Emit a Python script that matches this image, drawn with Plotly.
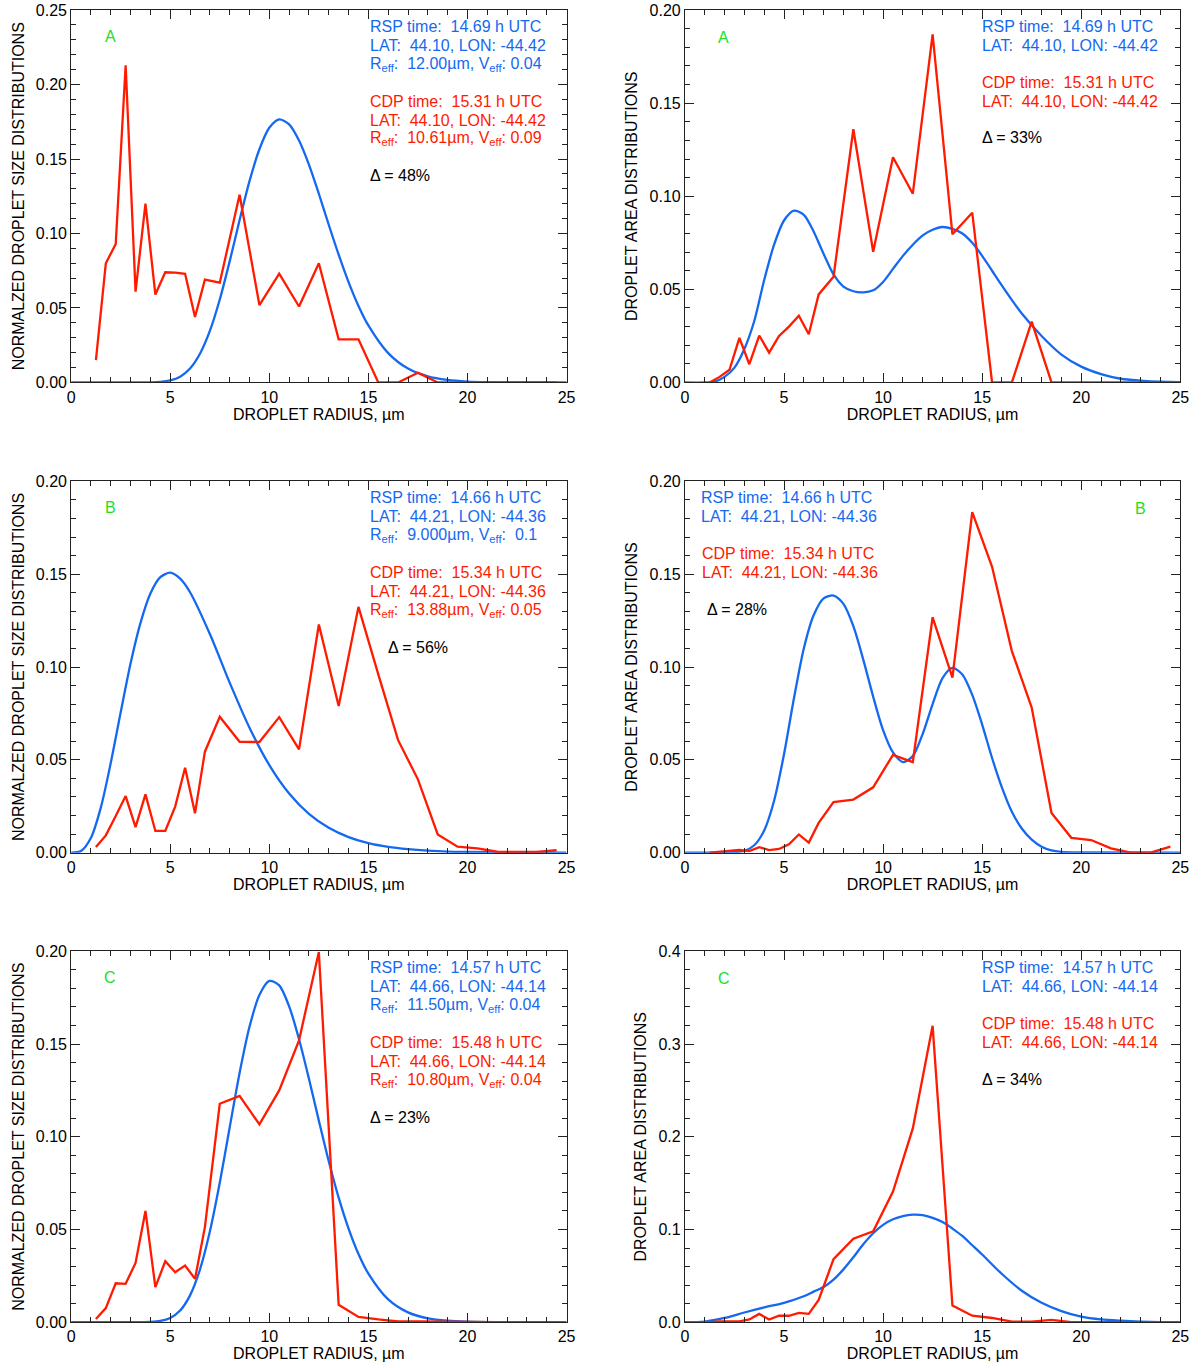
import plotly.graph_objects as go

# ---------------- data ----------------
x_cdp = [1.25, 1.75, 2.25, 2.75, 3.25, 3.75, 4.25, 4.75, 5.25, 5.75, 6.25, 6.75,
         7.5, 8.5, 9.5, 10.5, 11.5, 12.5, 13.5, 14.5, 15.5, 16.5, 17.5, 18.5,
         19.5, 20.5, 21.5, 22.5, 23.5, 24.5]

# CDP (red) distributions
cdp_size_A = [0.015, 0.080, 0.093, 0.213, 0.061, 0.120, 0.059, 0.074, 0.0737, 0.073, 0.044, 0.069,
              0.067, 0.126, 0.052, 0.073, 0.051, 0.080, 0.029, 0.029, 0.0, 0.0, 0.0065, 0.0,
              0.0, 0.0, 0.0, 0.0, 0.0, 0.0]
cdp_area_A = [0.0, 0.003, 0.0068, 0.024, 0.0098, 0.0252, 0.016, 0.025, 0.030, 0.0359, 0.0259, 0.0473,
              0.0568, 0.136, 0.0702, 0.121, 0.1014, 0.187, 0.0796, 0.0912, 0.0, 0.0, 0.0327, 0.0,
              0.0, 0.0, 0.0, 0.0, 0.0, 0.0]
cdp_size_B = [0.003, 0.0093, 0.0197, 0.0305, 0.0138, 0.0314, 0.0117, 0.0117, 0.0248, 0.0457, 0.0212, 0.0544,
              0.0732, 0.0597, 0.0596, 0.073, 0.0556, 0.1229, 0.079, 0.1324, 0.096, 0.0606, 0.0395, 0.0098,
              0.0032, 0.0023, 0.0005, 0.0004, 0.0004, 0.0013]
cdp_area_B = [0.0, 0.0005, 0.001, 0.0015, 0.0008, 0.003, 0.0014, 0.002, 0.0045, 0.0098, 0.0054, 0.016,
              0.0273, 0.0286, 0.0352, 0.0527, 0.0488, 0.1268, 0.0943, 0.1834, 0.154, 0.1086, 0.0782, 0.0214,
              0.008, 0.0068, 0.0023, 0.0, 0.0, 0.0032]
cdp_size_C = [0.0018, 0.0076, 0.021, 0.0207, 0.032, 0.060, 0.0189, 0.0329, 0.027, 0.0306, 0.0234, 0.0513,
              0.1178, 0.122, 0.1067, 0.125, 0.152, 0.1996, 0.0094, 0.0029, 0.0015, 0.0004, 0.0004, 0.0002,
              0.0, 0.0, 0.0, 0.0, 0.0, 0.0]
cdp_area_C = [0.0, 0.001, 0.001, 0.001, 0.003, 0.009, 0.003, 0.007, 0.007, 0.010, 0.009, 0.024,
              0.068, 0.090, 0.098, 0.141, 0.209, 0.3196, 0.018, 0.007, 0.0046, 0.0007, 0.0007, 0.0025,
              0.0, 0.0, 0.0, 0.0, 0.0, 0.0]

# RSP (blue) retrieved distributions
rsp_size_A_x = [0, 1, 2, 3, 4, 4.5, 5, 5.5, 6, 6.5, 7, 7.5, 8, 8.5, 9, 9.5, 10, 10.5, 11, 11.5,
                12, 12.5, 13, 13.5, 14, 14.5, 15, 16, 17, 18, 19, 20, 21, 22, 23, 24, 25]
rsp_size_A_y = [0, 0, 0, 0, 0.0001, 0.0004, 0.0014, 0.0039, 0.0094, 0.0193, 0.0346, 0.0557, 0.0813,
                0.109, 0.1352, 0.1566, 0.171, 0.1766, 0.1733, 0.1625, 0.1463, 0.1267, 0.1059, 0.0858,
                0.0674, 0.0514, 0.0383, 0.0197, 0.0093, 0.0041, 0.0017, 0.0006, 0.0002, 0.0001, 0, 0, 0]

rsp_area_A_x = [0, 1, 1.5, 2, 2.5, 3, 3.5, 4, 4.5, 5, 5.5, 6, 6.5, 7, 7.5, 8, 8.5, 9, 9.5, 10,
                10.5, 11, 11.5, 12, 12.5, 13, 13.5, 14, 14.5, 15, 15.5, 16, 17, 18, 19, 20, 21,
                22, 23, 24, 25]
rsp_area_A_y = [0, 0, 0.0005, 0.003, 0.008, 0.018, 0.033, 0.055, 0.074, 0.087, 0.0923, 0.09, 0.081,
                0.069, 0.058, 0.0515, 0.049, 0.0484, 0.0495, 0.054, 0.061, 0.068, 0.074, 0.079, 0.082,
                0.0835, 0.0825, 0.080, 0.075, 0.068, 0.060, 0.052, 0.037, 0.025, 0.015, 0.0085, 0.0045,
                0.002, 0.001, 0.0004, 0.0002]

rsp_size_B_x = [0, 0.5, 1, 1.5, 2, 2.5, 3, 3.5, 4, 4.5, 5, 5.5, 6, 7, 8, 9, 10, 11, 12, 13, 14,
                15, 16, 17, 18, 19, 20, 22, 25]
rsp_size_B_y = [0, 0.0009, 0.008, 0.0244, 0.0484, 0.0756, 0.102, 0.1238, 0.1396, 0.1484, 0.1508,
                0.1476, 0.1403, 0.1178, 0.0916, 0.0673, 0.0472, 0.0319, 0.0209, 0.0134, 0.0084,
                0.0051, 0.0031, 0.0019, 0.0011, 0.0006, 0.0004, 0.0001, 0]

rsp_area_B_x = [0, 2, 2.5, 3, 3.5, 4, 4.5, 5, 5.5, 6, 6.5, 7, 7.5, 8, 8.5, 9, 9.5, 10, 10.5, 11,
                11.5, 12, 12.5, 13, 13.5, 14, 14.5, 15, 15.5, 16, 16.5, 17, 17.5, 18, 18.5, 19,
                20, 25]
rsp_area_B_y = [0, 0, 0.0003, 0.001, 0.004, 0.012, 0.028, 0.053, 0.083, 0.110, 0.128, 0.137, 0.1385,
                0.134, 0.122, 0.104, 0.084, 0.066, 0.054, 0.0488, 0.052, 0.064, 0.080, 0.094, 0.0995,
                0.096, 0.085, 0.069, 0.051, 0.035, 0.022, 0.013, 0.007, 0.0032, 0.0012, 0.0004,
                0.0001, 0]

rsp_size_C_x = [0, 1, 2, 3, 4, 4.5, 5, 5.5, 6, 6.5, 7, 7.5, 8, 8.5, 9, 9.5, 10, 10.5, 11, 11.5,
                12, 12.5, 13, 13.5, 14, 14.5, 15, 16, 17, 18, 19, 20, 21, 22, 23, 24, 25]
rsp_size_C_y = [0, 0, 0, 0, 0.0002, 0.0007, 0.0023, 0.0063, 0.0145, 0.0284, 0.0489, 0.0752, 0.105,
                0.1344, 0.1593, 0.1764, 0.184, 0.1816, 0.1703, 0.1526, 0.1313, 0.1087, 0.0868,
                0.0672, 0.0505, 0.0368, 0.0262, 0.0123, 0.0053, 0.0021, 0.0008, 0.0003, 0.0001, 0,
                0, 0, 0]

rsp_area_C_x = [0, 1, 2, 3, 4, 5, 6, 6.5, 7, 7.5, 8, 8.5, 9, 9.5, 10, 10.5, 11, 11.5, 12, 12.5,
                13, 13.5, 14, 14.5, 15, 16, 17, 18, 19, 20, 21, 22, 23, 24, 25]
rsp_area_C_y = [0, 0.0007, 0.0046, 0.0105, 0.016, 0.021, 0.028, 0.033, 0.038, 0.046, 0.057, 0.070,
                0.084, 0.096, 0.105, 0.111, 0.1145, 0.116, 0.1155, 0.1125, 0.108, 0.101, 0.093,
                0.083, 0.073, 0.052, 0.034, 0.021, 0.012, 0.006, 0.003, 0.0016, 0.0007, 0.0002, 0]

# texts
panel_letters = ["A", "A", "B", "B", "C", "C"]
rsp_time = ["14.69", "14.66", "14.57"]
cdp_time = ["15.31", "15.34", "15.48"]
lat_lon = [("44.10", "-44.42"), ("44.21", "-44.36"), ("44.66", "-44.14")]
rsp_reff = ["12.00", "9.000", "11.50"]
rsp_veff = ["0.04", "\u00a00.1", "0.04"]
cdp_reff = ["10.61", "13.88", "10.80"]
cdp_veff = ["0.09", "0.05", "0.04"]
delta_size = ["48%", "56%", "23%"]
delta_area = ["33%", "28%", "34%"]

y_ranges = [0.25, 0.20, 0.20, 0.20, 0.20, 0.40]
y_dticks = [0.05, 0.05, 0.05, 0.05, 0.05, 0.1]
y_minor = [0.01, 0.01, 0.01, 0.01, 0.01, 0.02]
y_formats = [".2f", ".2f", ".2f", ".2f", ".2f", ".1f"]

# ---------------- styling / layout ----------------
W, H = 1204, 1368
# the photographed page is slightly rescaled; convert target (photo) positions
# into figure positions with the measured scale and offset
S = H / (H + 16)
OX, OY = 4.6, 7.9
TEXT_PAD = 2  # annotation inner padding
BLUE = "#1469f0"
RED = "#ff1a00"
GREEN = "#22e022"
FONT = "Liberation Sans, Arial, Helvetica, sans-serif"
FS = 16

col_px = [(71.7, 566.7), (685.0, 1180.0)]
row_px = [(10.0, 382.7), (481.7, 853.3), (952.0, 1323.3)]


def fx(px):
    return ((px - OX) / S) / W


def fy(py):
    return 1 - ((py - OY) / S) / H


fig = go.Figure()

size_sets = [(rsp_size_A_x, rsp_size_A_y, cdp_size_A),
             (rsp_size_B_x, rsp_size_B_y, cdp_size_B),
             (rsp_size_C_x, rsp_size_C_y, cdp_size_C)]
area_sets = [(rsp_area_A_x, rsp_area_A_y, cdp_area_A),
             (rsp_area_B_x, rsp_area_B_y, cdp_area_B),
             (rsp_area_C_x, rsp_area_C_y, cdp_area_C)]

layout = dict(width=W, height=H, autosize=False, margin=dict(l=0, r=0, t=0, b=0),
              paper_bgcolor="white", plot_bgcolor="white", showlegend=False,
              font=dict(family=FONT, size=FS, color="black"))

annotations = []


def ann(text, px, py, color, xanchor="left"):
    if xanchor == "left":
        px = px - TEXT_PAD
    annotations.append(dict(text=text, x=fx(px), y=fy(py), xref="paper", yref="paper",
                            xanchor=xanchor, yanchor="middle", showarrow=False,
                            font=dict(family=FONT, size=FS, color=color)))


for r in range(3):
    for c in range(2):
        i = r * 2 + c
        n = i + 1
        xs = "x" if n == 1 else f"x{n}"
        ys = "y" if n == 1 else f"y{n}"
        xa = "xaxis" if n == 1 else f"xaxis{n}"
        ya = "yaxis" if n == 1 else f"yaxis{n}"
        if c == 0:
            bx, by, red = size_sets[r]
            ytitle = "NORMALZED DROPLET SIZE DISTRIBUTIONS"
        else:
            bx, by, red = area_sets[r]
            ytitle = "DROPLET AREA DISTRIBUTIONS"
        fig.add_trace(go.Scatter(x=bx, y=by, mode="lines", xaxis=xs, yaxis=ys,
                                 line=dict(color=BLUE, width=2.3, shape="spline", smoothing=0.8)))
        fig.add_trace(go.Scatter(x=x_cdp, y=red, mode="lines", xaxis=xs, yaxis=ys,
                                 line=dict(color=RED, width=2.3)))
        x0, x1 = col_px[c]
        t0, t1 = row_px[r]
        common = dict(showline=True, linecolor="#222", linewidth=1, mirror="allticks",
                      ticks="inside", ticklen=9, tickwidth=1, tickcolor="#222",
                      showgrid=False, zeroline=False,
                      tickfont=dict(family=FONT, size=FS, color="black"))
        layout[xa] = dict(common, domain=[fx(x0), fx(x1)], anchor=ys, range=[0, 25],
                          tick0=0, dtick=5,
                          minor=dict(ticks="inside", dtick=1, ticklen=5, tickwidth=1,
                                     tickcolor="#222", showgrid=False),
                          title=dict(text="DROPLET RADIUS, µm", standoff=2,
                                     font=dict(family=FONT, size=FS)))
        layout[ya] = dict(common, domain=[fy(t1), fy(t0)], anchor=xs,
                          range=[0, y_ranges[i]], tick0=0, dtick=y_dticks[i],
                          tickformat=y_formats[i],
                          minor=dict(ticks="inside", dtick=y_minor[i], ticklen=5, tickwidth=1,
                                     tickcolor="#222", showgrid=False),
                          title=dict(text=ytitle, standoff=7,
                                     font=dict(family=FONT, size=FS)))

# ---------------- annotations ----------------
NB = "\u00a0"
# left column (size distributions)
for r in range(3):
    top = row_px[r][0]
    lat, lon = lat_lon[r]
    ann(f"RSP time:{NB} {rsp_time[r]} h UTC", 370, top + 16, BLUE)
    ann(f"LAT:{NB} {lat}, LON: {lon}", 370, top + 35, BLUE)
    ann(f"R<sub>eff</sub>:{NB} {rsp_reff[r]}µm, V<sub>eff</sub>: {rsp_veff[r]}", 370, top + 54, BLUE)
    ann(f"CDP time:{NB} {cdp_time[r]} h UTC", 370, top + 91, RED)
    ann(f"LAT:{NB} {lat}, LON: {lon}", 370, top + 110, RED)
    ann(f"R<sub>eff</sub>:{NB} {cdp_reff[r]}µm, V<sub>eff</sub>: {cdp_veff[r]}", 370, top + 129, RED)
    dx = 388 if r == 1 else 370
    ann(f"Δ = {delta_size[r]}", dx, top + 166, "black")
    ann(panel_letters[2 * r], 111, top + 26, GREEN, "center")

# right column (area distributions)
for r in range(3):
    top = row_px[r][0]
    lat, lon = lat_lon[r]
    if r == 1:
        xt, xd = 701, 707
    else:
        xt, xd = 982, 982
    ann(f"RSP time:{NB} {rsp_time[r]} h UTC", xt, top + 16, BLUE)
    ann(f"LAT:{NB} {lat}, LON: {lon}", xt, top + 35, BLUE)
    ann(f"CDP time:{NB} {cdp_time[r]} h UTC", xt + (1 if r == 1 else 0), top + 72, RED)
    ann(f"LAT:{NB} {lat}, LON: {lon}", xt + (1 if r == 1 else 0), top + 91, RED)
    ann(f"Δ = {delta_area[r]}", xd, top + 128, "black")
    lx = 1140 if r == 1 else 724
    ann(panel_letters[2 * r + 1], lx, top + 27, GREEN, "center")

layout["annotations"] = annotations
fig.update_layout(**layout)
fig.write_html("out.html")
